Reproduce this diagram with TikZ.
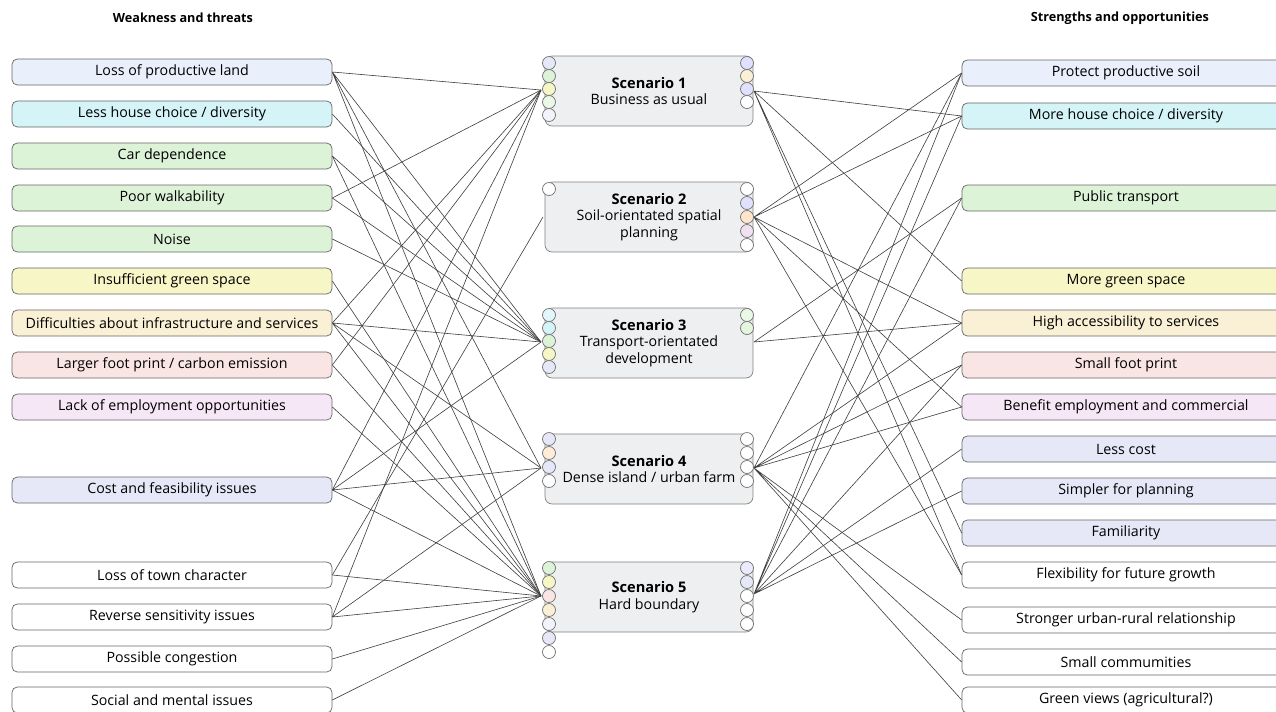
\documentclass[tikz,border=0pt]{standalone}
\usepackage{fontspec}
\setmainfont{Open Sans}
\usepackage{tikz}
\usetikzlibrary{positioning}
\definecolor{weakBlue}{HTML}{E9F0FB}
\definecolor{weakCyan}{HTML}{D5F4F7}
\definecolor{weakGreen}{HTML}{DDF3D8}
\definecolor{weakYellow}{HTML}{F6F6C6}
\definecolor{weakPeach}{HTML}{FAF0D5}
\definecolor{weakPink}{HTML}{FAE5E5}
\definecolor{weakViolet}{HTML}{F6E7F6}
\definecolor{weakLavender}{HTML}{E6E8F8}
\definecolor{scenGrey}{HTML}{EEEFF0}
\newcommand{\BoxFont}{\fontsize{8.1}{9.4}\selectfont}
\newcommand{\TitleFont}{\fontsize{8.3}{9.6}\selectfont\bfseries}

\begin{document}
\begin{tikzpicture}[x=0.02cm,y=-0.02cm]
\tikzset{WeakBox/.style={
  draw=black!60,
  rounded corners=3pt,
  minimum width=6.4cm,
  minimum height=0.52cm,
  inner sep=0pt,
  font=\BoxFont
}}
\tikzset{StrongBox/.style={
  WeakBox,
  minimum width=6.56cm
}}
\tikzset{ScenarioBox/.style={
  draw=black!50,
  fill=scenGrey,
  rounded corners=4pt,
  minimum width=4.16cm,
  minimum height=1.4cm,
  inner sep=0pt
}}
\tikzset{ScenarioText/.style={
  align=center,
  font=\BoxFont,
  inner sep=0pt
}}
\tikzset{Port/.style={
  draw=black!55,
  circle,
  minimum size=0.26cm,
  inner sep=0pt,
  fill=white
}}
\tikzset{Heading/.style={font=\fontsize{7.2}{8.6}\selectfont\bfseries}}
\tikzset{Link/.style={draw=black!75, line width=0.35pt}}

\useasboundingbox[fill=white] (0,0) rectangle (1276,711);

% headings
\node[Heading] (weakhead) at (183,18) {Weakness and threats};
\node[Heading] (stronghead) at (1120,18) {Strengths and opportunities};

% weaknesses and threats
\node[WeakBox, fill=weakBlue]     (l1)  at (172,72)  {Loss of productive land};
\node[WeakBox, fill=weakCyan]     (l2)  at (172,114) {Less house choice / diversity};
\node[WeakBox, fill=weakGreen]    (l3)  at (172,156) {Car dependence};
\node[WeakBox, fill=weakGreen]    (l4)  at (172,198) {Poor walkability};
\node[WeakBox, fill=weakGreen]    (l5)  at (172,239) {Noise};
\node[WeakBox, fill=weakYellow]   (l6)  at (172,281) {Insufficient green space};
\node[WeakBox, fill=weakPeach]    (l7)  at (172,323) {Difficulties about infrastructure and services};
\node[WeakBox, fill=weakPink]     (l8)  at (172,365) {Larger foot print / carbon emission};
\node[WeakBox, fill=weakViolet]   (l9)  at (172,407) {Lack of employment opportunities};
\node[WeakBox, fill=weakLavender] (l10) at (172,490) {Cost and feasibility issues};
\node[WeakBox, fill=white]        (l11) at (172,575) {Loss of town character};
\node[WeakBox, fill=white]        (l12) at (172,617) {Reverse sensitivity issues};
\node[WeakBox, fill=white]        (l13) at (172,659) {Possible congestion};
\node[WeakBox, fill=white]        (l14) at (172,700) {Social and mental issues};

% strengths and opportunities
\node[StrongBox, fill=weakBlue]     (r1)  at (1126,73)  {Protect productive soil};
\node[StrongBox, fill=weakCyan]     (r2)  at (1126,116) {More house choice / diversity};
\node[StrongBox, fill=weakGreen]    (r3)  at (1126,198) {Public transport};
\node[StrongBox, fill=weakYellow]   (r4)  at (1126,281) {More green space};
\node[StrongBox, fill=weakPeach]    (r5)  at (1126,323) {High accessibility to services};
\node[StrongBox, fill=weakPink]     (r6)  at (1126,365) {Small foot print};
\node[StrongBox, fill=weakViolet]   (r7)  at (1126,407) {Benefit employment and commercial};
\node[StrongBox, fill=weakLavender] (r8)  at (1126,449) {Less cost};
\node[StrongBox, fill=weakLavender] (r9)  at (1126,491) {Simpler for planning};
\node[StrongBox, fill=weakLavender] (r10) at (1126,533) {Familiarity};
\node[StrongBox, fill=white]        (r11) at (1126,575) {Flexibility for future growth};
\node[StrongBox, fill=white]        (r12) at (1126,620) {Stronger urban-rural relationship};
\node[StrongBox, fill=white]        (r13) at (1126,662) {Small commumities};
\node[StrongBox, fill=white]        (r14) at (1126,700) {Green views (agricultural?)};

% scenarios
\node[ScenarioBox] (s1) at (649,91)  {};
\node[ScenarioBox] (s2) at (649,217) {};
\node[ScenarioBox] (s3) at (649,343) {};
\node[ScenarioBox] (s4) at (649,469) {};
\node[ScenarioBox] (s5) at (649,597) {};
\node[ScenarioText] (s1text) at (s1) {{\TitleFont Scenario 1}\\Business as usual};
\node[ScenarioText] (s2text) at (s2) {{\TitleFont Scenario 2}\\Soil-orientated spatial\\planning};
\node[ScenarioText] (s3text) at (s3) {{\TitleFont Scenario 3}\\Transport-orientated\\development};
\node[ScenarioText] (s4text) at (s4) {{\TitleFont Scenario 4}\\Dense island / urban farm};
\node[ScenarioText] (s5text) at (s5) {{\TitleFont Scenario 5}\\Hard boundary};

% ports of scenario 1
\node[Port, fill=weakLavender]   (s1l1) at (549,63)  {};
\node[Port, fill=weakGreen]      (s1l2) at (549,76)  {};
\node[Port, fill=weakYellow]     (s1l3) at (549,89)  {};
\node[Port, fill=weakGreen!60]   (s1l4) at (549,102) {};
\node[Port, fill=weakLavender!50](s1l5) at (549,115) {};
\node[Port, fill=blue!12]        (s1r1) at (747,63)  {};
\node[Port, fill=weakPeach]      (s1r2) at (747,76)  {};
\node[Port, fill=blue!12]        (s1r3) at (747,89)  {};
\node[Port]                      (s1r4) at (747,102) {};
% ports of scenario 2
\node[Port]                      (s2l1) at (549,189) {};
\node[Port]                      (s2r1) at (747,189) {};
\node[Port, fill=blue!12]        (s2r2) at (747,203) {};
\node[Port, fill=orange!20]      (s2r3) at (747,217) {};
\node[Port, fill=violet!12]      (s2r4) at (747,231) {};
\node[Port]                      (s2r5) at (747,245) {};
% ports of scenario 3
\node[Port, fill=weakCyan!70]    (s3l1) at (549,315) {};
\node[Port, fill=weakCyan]       (s3l2) at (549,328) {};
\node[Port, fill=weakGreen]      (s3l3) at (549,341) {};
\node[Port, fill=weakYellow]     (s3l4) at (549,354) {};
\node[Port, fill=weakLavender]   (s3l5) at (549,367) {};
\node[Port, fill=weakGreen!60]   (s3r1) at (747,315) {};
\node[Port, fill=weakGreen!80]   (s3r2) at (747,328) {};
% ports of scenario 4
\node[Port, fill=weakLavender]   (s4l1) at (549,439) {};
\node[Port, fill=orange!15]      (s4l2) at (549,453) {};
\node[Port, fill=weakLavender]   (s4l3) at (549,467) {};
\node[Port]                      (s4l4) at (549,481) {};
\node[Port]                      (s4r1) at (747,439) {};
\node[Port]                      (s4r2) at (747,453) {};
\node[Port]                      (s4r3) at (747,467) {};
\node[Port]                      (s4r4) at (747,481) {};
% ports of scenario 5
\node[Port, fill=weakGreen]      (s5l1) at (549,568) {};
\node[Port, fill=weakYellow]     (s5l2) at (549,582) {};
\node[Port, fill=weakPink]       (s5l3) at (549,596) {};
\node[Port, fill=weakPeach]      (s5l4) at (549,610) {};
\node[Port, fill=weakLavender!50](s5l5) at (549,624) {};
\node[Port, fill=weakLavender]   (s5l6) at (549,638) {};
\node[Port]                      (s5l7) at (549,652) {};
\node[Port, fill=blue!8]         (s5r1) at (747,568) {};
\node[Port, fill=weakLavender]   (s5r2) at (747,582) {};
\node[Port]                      (s5r3) at (747,596) {};
\node[Port]                      (s5r4) at (747,610) {};
\node[Port]                      (s5r5) at (747,624) {};

% where the links meet
\coordinate (s1in)  at (541,90);
\coordinate (s2in)  at (543,217);
\coordinate (s3in)  at (541,342);
\coordinate (s4in)  at (541,468);
\coordinate (s5in)  at (541,596);
\coordinate (s1out) at (754,91);
\coordinate (s2out) at (754,217);
\coordinate (s3out) at (754,342);
\coordinate (s4out) at (754,468);
\coordinate (s5out) at (754,594);

% weaknesses to scenarios
\draw[Link] (l1.east) -- (s1in) (l1.east) -- (s3in) (l1.east) -- (s4in) (l1.east) -- (s5in);
\draw[Link] (l2.east) -- (s3in);
\draw[Link] (l3.east) -- (s3in) (l3.east) -- (s5in);
\draw[Link] (l4.east) -- (s1in) (l4.east) -- (s3in);
\draw[Link] (l5.east) -- (s3in);
\draw[Link] (l6.east) -- (s5in);
\draw[Link] (l7.east) -- (s1in) (l7.east) -- (s3in) (l7.east) -- (s4in) (l7.east) -- (s5in);
\draw[Link] (l8.east) -- (s1in) (l8.east) -- (s5in);
\draw[Link] (l9.east) -- (s5in);
\draw[Link] (l10.east) -- (s1in) (l10.east) -- (s3in) (l10.east) -- (s4in) (l10.east) -- (s5in);
\draw[Link] (l11.east) -- (s2in) (l11.east) -- (s5in);
\draw[Link] (l12.east) -- (s1in) (l12.east) -- (s4in) (l12.east) -- (s5in);
\draw[Link] (l13.east) -- (s5in);
\draw[Link] (l14.east) -- (s5in);

% scenarios to strengths
\draw[Link] (s1out) -- (r2.west) (s1out) -- (r4.west) (s1out) -- (r10.west) (s1out) -- (r11.west);
\draw[Link] (s2out) -- (r1.west) (s2out) -- (r2.west) (s2out) -- (r5.west) (s2out) -- (r7.west) (s2out) -- (r11.west);
\draw[Link] (s3out) -- (r3.west) (s3out) -- (r5.west);
\draw[Link] (s4out) -- (r1.west) (s4out) -- (r5.west) (s4out) -- (r6.west) (s4out) -- (r7.west) (s4out) -- (r12.west) (s4out) -- (r13.west) (s4out) -- (r14.west);
\draw[Link] (s5out) -- (r1.west) (s5out) -- (r2.west) (s5out) -- (r3.west) (s5out) -- (r6.west) (s5out) -- (r8.west) (s5out) -- (r9.west);
\end{tikzpicture}
\end{document}
